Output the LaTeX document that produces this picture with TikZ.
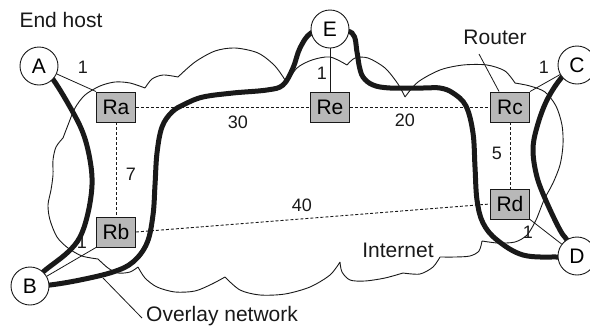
\documentclass[tikz,border=0pt]{standalone}
\usepackage{fontspec}
\setmainfont{Liberation Sans}
\usetikzlibrary{backgrounds}
\definecolor{rgray}{RGB}{184,184,184}
\definecolor{ink}{RGB}{25,25,25}
\begin{document}
\begin{tikzpicture}[x=1pt,y=-1pt,
  host/.style={circle, draw=ink, line width=0.9pt, fill=white, minimum size=38pt, inner sep=0pt, font=\fontsize{21}{24}\selectfont},
  router/.style={rectangle, draw=ink, line width=0.9pt, fill=rgray, minimum width=39pt, minimum height=30pt, inner sep=0pt, font=\fontsize{21}{24}\selectfont},
  overlay/.style={draw=ink, line width=5pt},
  link/.style={draw=ink, line width=0.8pt},
  vlink/.style={draw=ink, dash pattern=on 3pt off 2pt, line width=0.9pt},
  cloudline/.style={draw=ink, line width=0.9pt},
  num/.style={font=\fontsize{18}{20}\selectfont, inner sep=0pt, text=ink},
  lbl/.style={font=\fontsize{21}{24}\selectfont, inner sep=0pt, text=ink}]
\useasboundingbox (0,0) rectangle (590,325);

% nodes
\node[host] (A) at (39,66) {A};
\node[host] (B) at (30,286) {B};
\node[host] (E) at (330,29) {E};
\node[host] (C) at (577,65) {C};
\node[host] (D) at (577,256) {D};
\node[router] (Ra) at (116,107) {Ra};
\node[router] (Rb) at (116,232) {Rb};
\node[router] (Re) at (330,107) {Re};
\node[router] (Rc) at (510,107) {Rc};
\node[router] (Rd) at (510,204) {Rd};

% labels
\node[lbl] (endhost) at (61,20) {End host};
\node[lbl] (router) at (495,37) {Router};
\node[lbl] (internet) at (398,250) {Internet};
\node[lbl, anchor=west] (ovl) at (146,316) {Overlay network};
\node[num] (n1) at (83,67) {1};
\node[num] (n2) at (82,242) {1};
\node[num] (n3) at (131,174) {7};
\node[num] (n4) at (238,122) {30};
\node[num] (n5) at (322,73) {1};
\node[num] (n6) at (405,120) {20};
\node[num] (n7) at (497,153) {5};
\node[num] (n8) at (302,205) {40};
\node[num] (n9) at (544,67) {1};
\node[num] (n10) at (528,232) {1};

\coordinate (rp) at (479,54);
\coordinate (op) at (103,278);

\begin{scope}[on background layer]
  % cloud
  \draw[cloudline]
    plot[smooth] coordinates {(98,259) (82,256) (68,248) (57,237) (50,220) (48,205) (51,190) (53,175) (53,160) (56,147) (63,138)}
    plot[smooth] coordinates {(63,138) (68,125) (75,108) (85,95) (100,86) (115,82) (130,83) (145,88)}
    plot[smooth] coordinates {(145,88) (152,79) (163,75) (178,77)}
    plot[smooth] coordinates {(178,77) (195,62) (215,51) (235,48) (258,53) (275,66) (287,83)}
    plot[smooth] coordinates {(287,83) (297,68) (312,60) (330,57) (347,65)}
    plot[smooth] coordinates {(347,65) (355,58) (368,58) (385,68) (398,84) (405,97)}
    plot[smooth] coordinates {(405,97) (418,82) (440,70) (463,65) (487,65) (505,71) (515,83)}
    plot[smooth] coordinates {(515,83) (530,86) (545,92) (556,106) (562,125) (563,145) (560,165) (553,183) (544,200) (536,220) (527,235) (515,242) (498,243) (482,241)}
    plot[smooth] coordinates {(482,241) (479,251) (470,256) (455,257) (440,257)}
    plot[smooth] coordinates {(440,257) (433,267) (420,274) (403,273)}
    plot[smooth] coordinates {(403,273) (385,278) (365,281) (350,280) (342,272) (340,262)}
    plot[smooth] coordinates {(340,262) (330,275) (310,287) (285,294) (260,295) (240,290) (225,277)}
    plot[smooth] coordinates {(225,277) (212,284) (195,291) (175,292) (157,287) (145,278) (138,267)}
    plot[smooth] coordinates {(138,267) (130,272) (118,273) (108,268) (98,259)};
  % virtual links
  \draw[vlink] (Ra) -- (Re);
  \draw[vlink] (Re) -- (Rc);
  \draw[vlink] (Ra) -- (Rb);
  \draw[vlink] (Rc) -- (Rd);
  \draw[vlink] (Rb.east) -- (Rd.west);
  % access links
  \draw[link] (A) -- (Ra.north west);
  \draw[link] (B) -- (Rb.south west);
  \draw[link] (E) -- (Re);
  \draw[link] (C) -- (Rc.north east);
  \draw[link] (D) -- (Rd.south east);
  % pointers
  \draw[link] (rp) -- ([xshift=9pt]Rc.north west);
  \draw[link] (op) -- ([xshift=-4pt,yshift=-2pt]ovl.west);
  % overlay paths
  \draw[overlay] plot[smooth, tension=0.6] coordinates {(A.center) (52,78) (70,107) (83,133) (90,160) (92,185) (88,213) (80,237) (67,253) (43,272) (B.center)};
  \draw[overlay] plot[smooth, tension=0.6] coordinates {(B.center) (50,285) (80,280) (113,272) (133,262) (147,243) (153,215) (155,185) (157,153) (162,127) (172,112) (185,104) (203,97) (233,93) (267,90) (283,85) (293,68) (300,48) (311,33) (E.center)};
  \draw[overlay] plot[smooth, tension=0.6] coordinates {(E.center) (352,33) (357,52) (359,65) (363,77) (373,85) (390,88) (423,88) (440,88) (453,93) (466,106) (473,133) (475,167) (477,200) (483,223) (497,240) (523,255) (557,257) (D.center)};
  \draw[overlay] plot[smooth, tension=0.6] coordinates {(C.center) (562,77) (547,100) (537,127) (533,150) (537,177) (547,203) (560,230) (567,240) (D.center)};
\end{scope}
\end{tikzpicture}
\end{document}
